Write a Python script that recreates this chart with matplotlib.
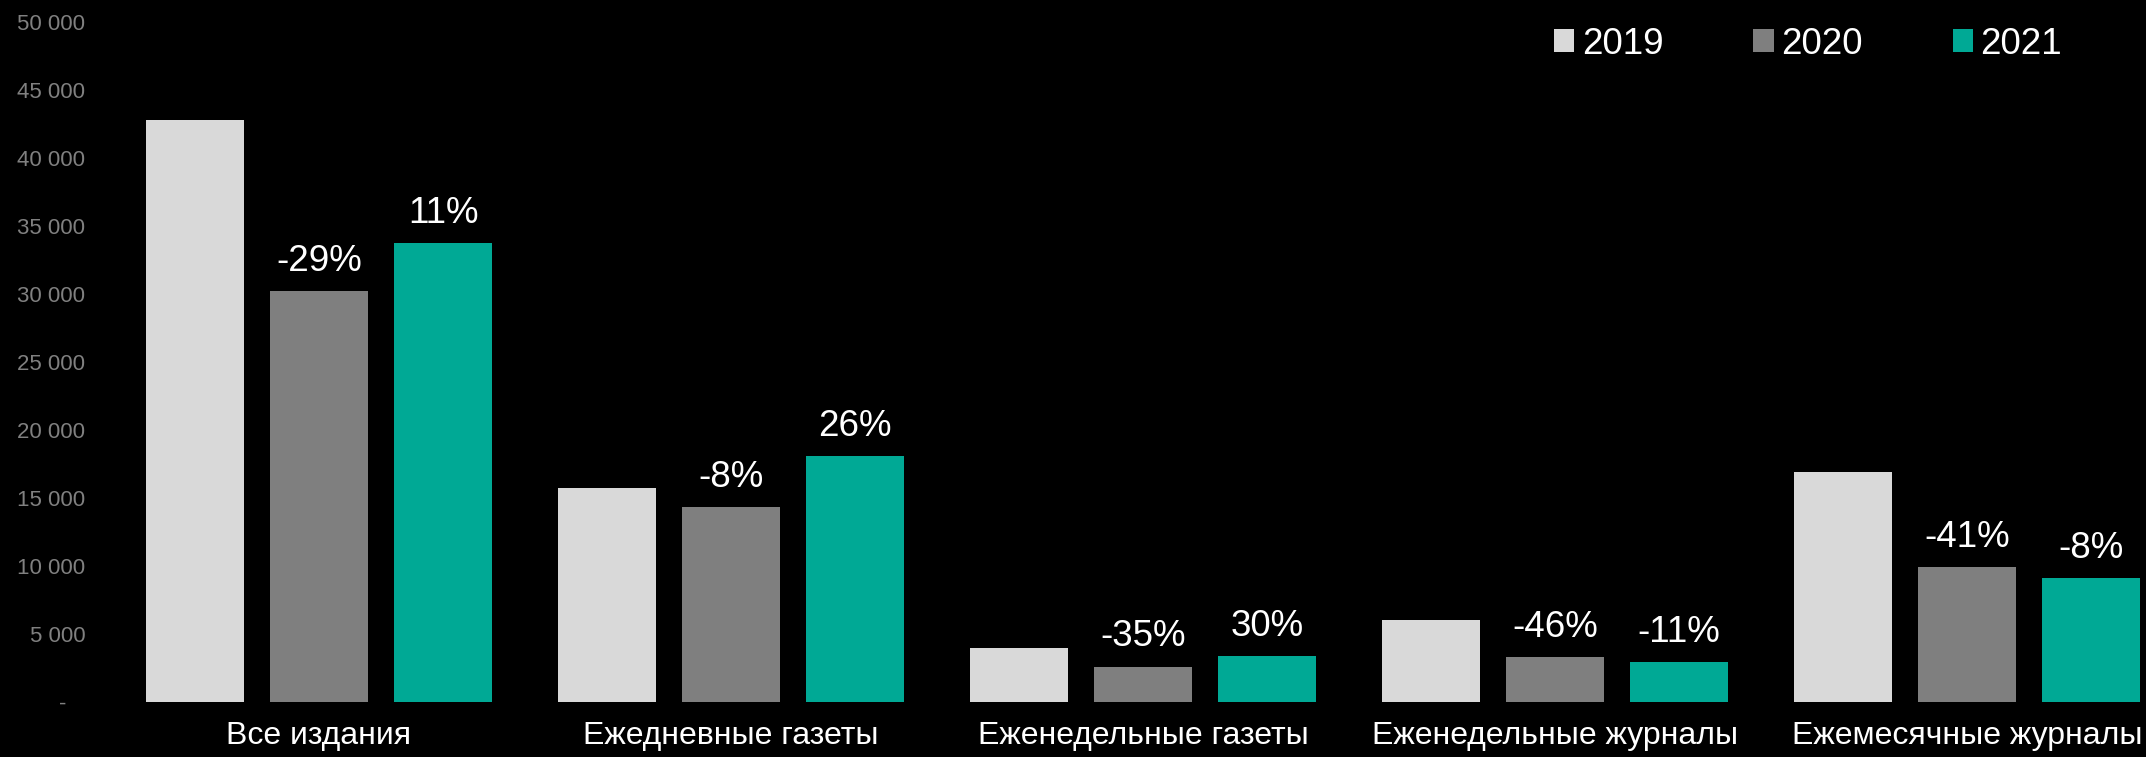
import numpy as np
import matplotlib.pyplot as plt
from matplotlib.ticker import FuncFormatter

plt.rcParams['font.family'] = ['Liberation Sans', 'DejaVu Sans']

# data
categories = ['Все издания', 'Ежедневные газеты', 'Еженедельные газеты',
              'Еженедельные журналы', 'Ежемесячные журналы']
years = ['2019', '2020', '2021']
v2019 = [42800, 15700, 3950, 6050, 16900]
v2020 = [30200, 14300, 2600, 3300, 9900]
v2021 = [33700, 18050, 3350, 2950, 9100]
pct2020 = [-29, -8, -35, -46, -41]
pct2021 = [11, 26, 30, -11, -8]

colors = ['#d9d9d9', '#7f7f7f', '#00a995']

fig = plt.figure(figsize=(21.46, 7.57), dpi=100, facecolor='black')
ax = fig.add_axes([113 / 2146, 1 - 702 / 757, 1 - 113 / 2146, (702 - 21.7) / 757])
ax.set_facecolor('black')

x = np.arange(len(categories))
w = 0.236
step = 0.301
series = [v2019, v2020, v2021]
for i, (vals, c) in enumerate(zip(series, colors)):
    ax.bar(x + (i - 1) * step, vals, width=w, color=c, label=years[i])

# growth labels above 2020 and 2021 bars
for i, pcts in ((1, pct2020), (2, pct2021)):
    for xi, v, p in zip(x, series[i], pcts):
        ax.annotate(f'{p}%', (xi + (i - 1) * step, v), xytext=(0, 14.5),
                    textcoords='offset points', ha='center', va='baseline',
                    color='white', fontsize=26.5)

ax.set_ylim(0, 50000)
ax.set_xlim(-0.5, -0.5 + (2146 - 113) / 412.0)
ax.set_yticks(np.arange(0, 50001, 5000))
ax.yaxis.set_major_formatter(FuncFormatter(
    lambda v, p: '-   ' if v == 0 else f'{int(v):,}'.replace(',', ' ')))
ax.set_xticks(x)
ax.set_xticklabels(categories)
ax.tick_params(axis='y', length=0, pad=20, labelsize=16, labelcolor='#808080')
ax.tick_params(axis='x', length=0, pad=14, labelsize=23, labelcolor='white')
for s in ax.spines.values():
    s.set_visible(False)

ax.legend(loc='center right', bbox_to_anchor=(2062 / 2146, 1 - 44 / 757),
          bbox_transform=fig.transFigure, ncol=3, frameon=False,
          fontsize=26.5, labelcolor='white', handlelength=0.55, handleheight=0.55,
          handletextpad=0.2, columnspacing=2.45, borderpad=0, borderaxespad=0)

fig.savefig('out.png', dpi=100, facecolor='black')
